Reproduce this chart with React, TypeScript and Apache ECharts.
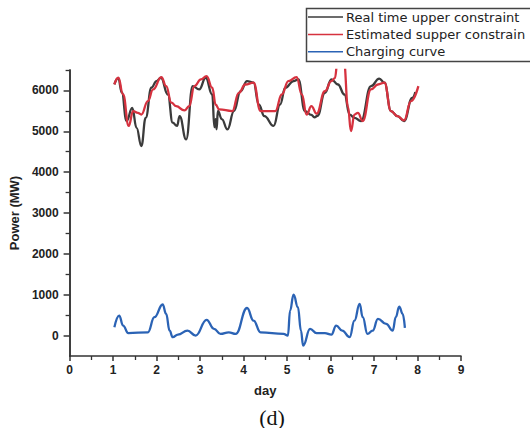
import React, { useEffect, useRef } from "react";
import * as echarts from "echarts";

// ---- data ----
const realX = [1.03, 1.12, 1.2, 1.31, 1.44, 1.54, 1.65, 1.75, 1.88, 2.0, 2.1, 2.26, 2.37, 2.47, 2.53, 2.68, 2.83, 2.98, 3.13, 3.28, 3.33, 3.36, 3.38, 3.41, 3.5, 3.63, 3.78, 3.93, 4.08, 4.23, 4.35, 4.48, 4.69, 4.84, 4.96, 5.15, 5.26, 5.41, 5.56, 5.63, 5.7, 5.87, 6.02, 6.17, 6.32, 6.44, 6.55, 6.7, 6.93, 7.12, 7.24, 7.39, 7.54, 7.69, 7.88, 7.95];
const realY = [6150, 6300, 5950, 5250, 5575, 5085, 4640, 5330, 6065, 6230, 6310, 5900, 5210, 5130, 5370, 4800, 6105, 6025, 6310, 5900, 5100, 5300, 5050, 5500, 5300, 5045, 5495, 5980, 6230, 6190, 5655, 5370, 5130, 5655, 6065, 6230, 6270, 5495, 5400, 5340, 5380, 5940, 6270, 6145, 5900, 5410, 5330, 5250, 6105, 6290, 6190, 5495, 5370, 5250, 5820, 5960];

const estX = [1.03, 1.12, 1.23, 1.36, 1.46, 1.57, 1.65, 1.8, 1.92, 2.11, 2.22, 2.34, 2.45, 2.64, 2.75, 2.87, 3.02, 3.15, 3.28, 3.36, 3.44, 3.74, 3.89, 4.04, 4.23, 4.39, 4.73, 4.88, 5.03, 5.22, 5.34, 5.45, 5.56, 5.68, 5.87, 6.02, 6.1, 6.16, 6.31, 6.4, 6.47, 6.55, 6.63, 6.74, 6.93, 7.09, 7.24, 7.39, 7.54, 7.69, 7.85, 8.02];
const estY = [6150, 6310, 5900, 5130, 5495, 5450, 5410, 5740, 6025, 6325, 6105, 5700, 5615, 5510, 5615, 6105, 6270, 6350, 6065, 5650, 5535, 5495, 5940, 6145, 6190, 5495, 5495, 5900, 6230, 6325, 5900, 5410, 5615, 5430, 5980, 6230, 6300, 6700, 6700, 5600, 5005, 5410, 5450, 5250, 6025, 6145, 6190, 5495, 5370, 5265, 5740, 6105];

const chargeX = [1.03, 1.14, 1.23, 1.35, 1.8, 1.95, 2.14, 2.22, 2.3, 2.37, 2.49, 2.71, 2.9, 3.15, 3.32, 3.47, 3.66, 3.82, 4.08, 4.23, 4.39, 4.92, 5.02, 5.07, 5.15, 5.25, 5.32, 5.37, 5.53, 5.68, 5.87, 6.02, 6.13, 6.27, 6.44, 6.55, 6.67, 6.74, 6.85, 6.97, 7.09, 7.28, 7.43, 7.5, 7.58, 7.66, 7.71];
const chargeY = [205, 490, 245, 60, 80, 450, 760, 530, 120, -40, 25, 120, 0, 385, 165, 40, 80, 40, 675, 365, 80, 40, 0, 610, 1000, 695, 120, -245, 165, 60, 60, 25, 245, 120, -40, 365, 775, 450, 40, 120, 410, 285, 120, 450, 710, 530, 190];

const yTickValues = [0, 1000, 2000, 3000, 4000, 5000, 6000];
const yMinorValues = [500, 1500, 2500, 3500, 4500, 5500, 6500];
const seriesNames = ["Real time upper constraint", "Estimated supper constrain", "Charging curve"];
const seriesColors = ["#3b3b3b", "#d6323f", "#2b63b5"];

const zip = (xs: number[], ys: number[]) => xs.map((x, i) => [x, ys[i]]);

export default function App() {
  const ref = useRef<HTMLDivElement>(null);
  useEffect(() => {
    if (!ref.current) return;
    const chart = echarts.init(ref.current, undefined, { renderer: "svg" });
    const tickFont = { fontFamily: "Liberation Sans", fontWeight: "bold" as const, fontSize: 12, color: "#222" };
    const axisLineStyle = { color: "#333", width: 1.5 };
    chart.setOption({
      animation: false,
      backgroundColor: "#fff",
      grid: { left: 66, right: 69, top: 70, bottom: 72 },
      xAxis: {
        type: "value",
        min: 0,
        max: 9,
        interval: 1,
        name: "day",
        nameLocation: "middle",
        nameGap: 28,
        nameTextStyle: { fontFamily: "Liberation Sans", fontWeight: "bold", fontSize: 13, color: "#222" },
        axisLine: { show: true, onZero: false, lineStyle: axisLineStyle },
        axisTick: { show: true, inside: false, length: 5, lineStyle: axisLineStyle },
        minorTick: { show: true, splitNumber: 2, length: 4, lineStyle: { color: "#333", width: 1.3 } },
        axisLabel: { ...tickFont, margin: 8 },
        splitLine: { show: false },
      },
      yAxis: [
        {
          type: "value",
          min: -500,
          max: 6500,
          name: "Power (MW)",
          nameLocation: "middle",
          nameGap: 45,
          nameTextStyle: { fontFamily: "Liberation Sans", fontWeight: "bold", fontSize: 13, color: "#222" },
          axisLine: { show: true, lineStyle: axisLineStyle },
          axisTick: { show: true, inside: false, length: 6, customValues: yTickValues, lineStyle: axisLineStyle },
          axisLabel: { ...tickFont, margin: 11, customValues: yTickValues, formatter: (v: number) => String(v) },
          splitLine: { show: false },
        },
        {
          type: "value",
          min: -500,
          max: 6500,
          position: "left",
          offset: 0,
          axisLine: { show: true, lineStyle: { color: "#333", width: 1.5 } },
          axisTick: { show: true, inside: false, length: 4, customValues: yMinorValues, lineStyle: { color: "#333", width: 1.3 } },
          axisLabel: { show: false },
          splitLine: { show: false },
        },
      ],
      series: [
        { name: seriesNames[0], data: zip(realX, realY) },
        { name: seriesNames[1], data: zip(estX, estY) },
        { name: seriesNames[2], data: zip(chargeX, chargeY) },
      ].map((s, i) => ({
        ...s,
        type: "line",
        yAxisIndex: 0,
        smooth: 0.45,
        smoothMonotone: "x",
        showSymbol: false,
        lineStyle: { color: seriesColors[i], width: 2.3 },
        itemStyle: { color: seriesColors[i] },
      })),
      graphic: [
        {
          type: "rect",
          shape: { x: 306.5, y: 8.5, width: 240, height: 53 },
          style: { fill: "#fff", stroke: "#444", lineWidth: 1.5 },
          z: 10,
        },
        ...seriesNames.flatMap((name, i) => {
          const y = 17 + i * 17.4;
          return [
            { type: "line", shape: { x1: 308, y1: y, x2: 343, y2: y }, style: { stroke: seriesColors[i], lineWidth: 1.5 }, z: 11 },
            {
              type: "text",
              x: 346,
              y,
              style: { text: name, fontFamily: "DejaVu Sans", fontSize: 13, fill: "#222", textVerticalAlign: "middle" },
              z: 11,
            },
          ];
        }),
        {
          type: "text",
          x: 272,
          y: 417,
          style: { text: "(d)", fontFamily: "Liberation Serif", fontSize: 22, fill: "#111", textAlign: "center", textVerticalAlign: "middle" },
        },
      ],
    });
    return () => chart.dispose();
  }, []);
  return <div ref={ref} style={{ position: "fixed", left: 0, top: 0, width: 530, height: 428 }} />;
}
